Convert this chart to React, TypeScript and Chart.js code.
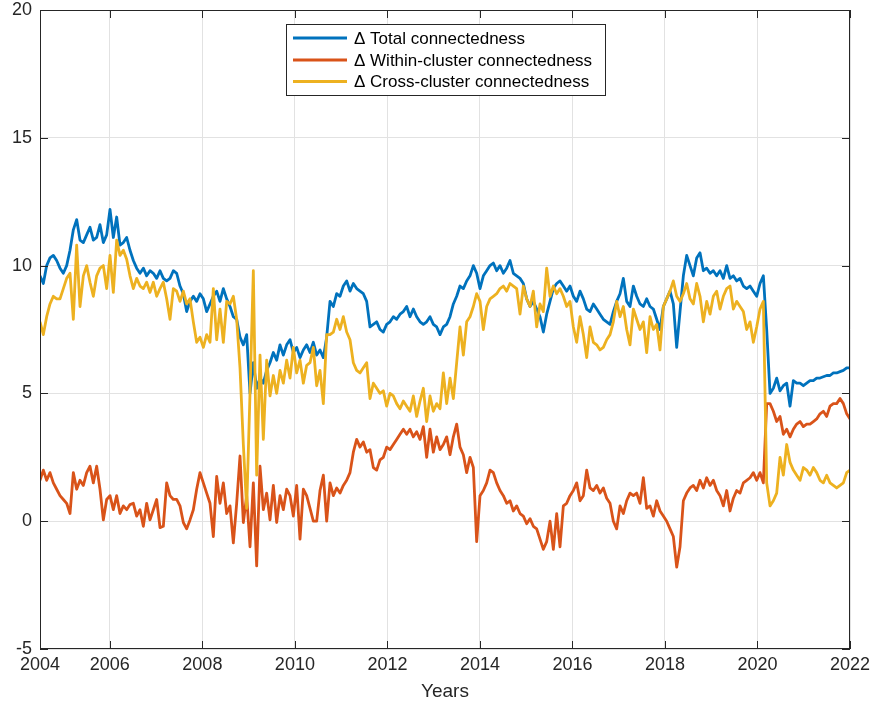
import React, { useEffect, useRef } from 'react';
import { Chart, registerables } from 'chart.js';

Chart.register(...registerables);

// ---- time axis (decimal years, one sample every ~0.072 yr) ----
const sampleStartYear = 2004.49;
const sampleStepYears = 0.07206;
const xAxisMin = 2004.49;
const xAxisMax = 2022;
const xTickValues = [2004.49, 2006, 2008, 2010, 2012, 2014, 2016, 2018, 2020, 2022];
const xTickLabels = ['2004', '2006', '2008', '2010', '2012', '2014', '2016', '2018', '2020', '2022'];
const yTickValues = [-5, 0, 5, 10, 15, 20];

const seriesLabels = [
  '\u0394 Total connectedness',
  '\u0394 Within-cluster connectedness',
  '\u0394 Cross-cluster connectedness',
];
const seriesColors = ['#0072BD', '#D95319', '#EDB120'];

// ---- series values ----
const totalConnectedness = [
  9.6, 9.3, 10.0, 10.3, 10.4, 10.2, 9.9, 9.7, 10.0, 10.6, 11.4, 11.8, 11.0, 10.9, 11.2, 11.5, 11.0, 11.1, 11.6, 10.9,
  11.2, 12.2, 11.1, 11.9, 10.8, 10.9, 11.1, 10.6, 10.2, 9.9, 9.7, 9.9, 9.6, 9.8, 9.7, 9.5, 9.8, 9.5, 9.4, 9.5, 9.8,
  9.7, 9.2, 8.9, 8.2, 8.6, 8.8, 8.6, 8.9, 8.7, 8.2, 8.5, 8.8, 9.0, 8.6, 9.1, 8.7, 8.4, 8.0, 7.9, 7.2,
  6.9, 7.3, 5.0, 6.2, 5.2, 5.6, 5.4, 5.9, 6.2, 6.6, 6.3, 6.9, 6.5, 6.9, 7.1, 6.6, 6.8, 6.4, 6.7, 6.9,
  6.6, 7.0, 6.5, 6.7, 6.4, 7.2, 8.6, 8.4, 8.9, 8.8, 9.2, 9.4, 9.0, 9.3, 9.1, 9.0, 8.9, 8.6, 7.6, 7.7,
  7.8, 7.5, 7.4, 7.7, 7.8, 8.0, 7.9, 8.1, 8.2, 8.4, 8.0, 8.3, 8.0, 7.8, 7.7, 7.8, 8.0, 7.7, 7.6, 7.3,
  7.6, 7.7, 8.0, 8.5, 8.8, 9.2, 9.1, 9.4, 9.6, 10.0, 9.7, 9.1, 9.6, 9.8, 10.0, 10.1, 9.8, 10.0, 9.7, 9.9,
  10.2, 9.7, 9.6, 9.5, 9.3, 8.7, 8.4, 8.6, 8.3, 8.0, 7.4, 8.1, 8.6, 9.1, 9.3, 9.4, 9.2, 9.0, 9.2, 8.8, 8.6,
  9.0, 8.7, 8.3, 8.2, 8.5, 8.3, 8.1, 7.9, 7.8, 7.7, 8.2, 8.6, 8.9, 9.5, 8.6, 8.4, 9.2, 8.8, 8.5, 8.4,
  8.7, 8.4, 8.3, 7.9, 7.5, 8.4, 8.7, 9.0, 8.5, 6.8, 8.2, 9.6, 10.4, 10.0, 9.6, 10.3, 10.5, 9.8, 9.9, 9.7,
  9.8, 9.6, 9.8, 9.5, 10.0, 9.5, 9.6, 9.4, 9.5, 9.2, 9.1, 9.2, 9.0, 8.8, 9.3, 9.6, 7.5, 5.0, 5.2, 5.6,
  5.1, 5.3, 5.4, 4.5, 5.5, 5.4, 5.4, 5.3, 5.4, 5.5, 5.5, 5.6, 5.6, 5.65, 5.7, 5.7, 5.8, 5.8, 5.85, 5.9, 6.0, 6.0,
];

const withinClusterConnectedness = [
  1.6, 2.0, 1.6, 1.9, 1.5, 1.25, 1.0, 0.85, 0.7, 0.3, 1.9, 1.25, 1.6, 1.4, 1.9, 2.15, 1.5, 2.15, 1.25, 0.05,
  0.85, 1.0, 0.45, 1.0, 0.3, 0.6, 0.45, 0.65, 0.7, 0.2, 0.45, -0.2, 0.7, 0.05, 0.45, 0.85, -0.25, -0.2, 1.5, 1.0, 0.85,
  0.85, 0.6, -0.05, -0.3, 0.05, 0.45, 1.25, 1.9, 1.5, 1.1, 0.7, -0.6, 1.75, 0.7, 1.5, 0.3, 0.6, -0.85, 0.7, 2.55,
  -0.05, 1.0, -1.0, 1.5, -1.75, 2.15, 0.45, 1.1, 0.05, 1.4, -0.05, 1.0, 0.45, 1.25, 1.0, 0.2, 1.4, -0.7, 1.25, 1.0,
  0.5, 0.0, 0.0, 1.2, 1.8, 0.0, 1.5, 1.0, 1.3, 1.1, 1.4, 1.6, 1.9, 2.7, 3.2, 2.9, 3.1, 2.7, 2.8, 2.1,
  2.0, 2.4, 2.5, 2.9, 2.8, 3.0, 3.2, 3.4, 3.6, 3.4, 3.6, 3.3, 3.5, 3.2, 3.7, 2.5, 3.6, 2.7, 3.3, 2.8,
  3.0, 3.3, 2.6, 3.3, 3.8, 2.9, 2.6, 1.9, 2.5, 2.1, -0.8, 1.0, 1.2, 1.5, 2.0, 1.9, 1.5, 1.2, 1.0, 0.7,
  0.8, 0.4, 0.6, 0.3, 0.2, -0.1, 0.1, -0.2, -0.3, -0.7, -1.1, -0.8, 0.0, -1.1, 0.3, -1.0, 0.6, 0.7, 1.0, 1.2, 1.5,
  0.8, 1.0, 2.0, 1.3, 1.2, 1.4, 1.1, 1.3, 0.9, 0.7, 0.0, -0.3, 0.6, 0.3, 0.8, 1.1, 1.0, 1.1, 0.7, 1.7,
  0.5, 0.6, 0.2, 0.8, 0.4, 0.2, 0.0, -0.3, -0.6, -1.8, -1.0, 0.8, 1.1, 1.3, 1.4, 1.2, 1.6, 1.3, 1.7, 1.4,
  1.6, 1.2, 1.0, 0.6, 1.2, 0.4, 0.9, 1.2, 1.1, 1.5, 1.6, 1.7, 1.9, 1.6, 1.9, 1.5, 4.6, 4.6, 4.3, 3.9,
  4.1, 3.4, 3.6, 3.3, 3.6, 3.8, 3.9, 3.7, 3.8, 3.8, 3.9, 4.0, 4.2, 4.3, 4.1, 4.5, 4.6, 4.6, 4.8, 4.6, 4.2, 4.0,
];

const crossClusterConnectedness = [
  7.8, 7.3, 8.0, 8.5, 8.8, 8.7, 8.7, 9.1, 9.5, 9.7, 7.9, 10.8, 8.4, 9.6, 10.0, 9.35, 8.8, 9.6, 9.9, 10.0,
  9.1, 10.4, 8.95, 11.0, 10.4, 10.6, 10.25, 9.6, 9.1, 9.5, 9.2, 9.1, 9.35, 8.95, 9.35, 8.8, 9.1, 9.35, 8.7, 7.9, 9.1,
  9.0, 8.6, 9.0, 8.5, 8.7, 7.8, 7.0, 7.2, 6.8, 7.3, 7.0, 9.1, 7.1, 8.3, 7.0, 8.6, 8.5, 8.8, 7.9, 6.0,
  3.0, 0.5, 5.0, 9.8, 1.8, 6.5, 3.2, 6.3, 4.9, 5.7, 5.0, 5.9, 5.4, 6.3, 5.6, 6.8, 5.8, 6.3, 5.4, 6.1,
  6.2, 6.8, 5.3, 5.9, 4.6, 7.3, 7.3, 7.4, 7.9, 7.5, 8.0, 7.4, 7.1, 6.2, 5.9, 5.8, 6.0, 6.2, 4.8, 5.4,
  5.2, 5.0, 5.1, 4.5, 5.0, 4.9, 4.6, 4.4, 4.7, 4.5, 4.3, 4.9, 4.1, 4.7, 5.2, 3.9, 4.9, 4.3, 4.6, 4.4,
  5.8, 4.6, 5.6, 4.8, 6.2, 7.6, 6.5, 7.8, 8.0, 8.4, 8.9, 8.6, 7.5, 8.4, 8.7, 8.8, 8.9, 9.1, 9.2, 9.0,
  9.3, 9.2, 9.1, 8.1, 9.2, 8.7, 8.4, 9.0, 7.6, 8.5, 8.2, 9.9, 8.8, 9.2, 8.9, 9.1, 8.8, 8.4, 8.6, 7.6, 7.0,
  8.0, 7.3, 6.4, 7.6, 7.0, 6.9, 6.7, 6.8, 7.1, 7.3, 7.8, 8.6, 8.0, 8.4, 7.5, 6.9, 8.3, 7.9, 7.5, 7.8,
  6.6, 8.0, 7.5, 7.7, 6.7, 8.4, 8.7, 9.0, 9.4, 8.8, 8.6, 8.9, 9.3, 8.7, 8.5, 9.3, 8.8, 7.8, 8.6, 8.1,
  8.8, 9.0, 8.3, 8.8, 9.1, 9.2, 8.3, 8.6, 8.4, 8.2, 7.5, 7.8, 7.0, 7.6, 8.3, 8.6, 1.5, 0.6, 0.8, 1.1,
  2.5, 1.8, 3.0, 2.3, 2.0, 1.8, 1.6, 2.1, 2.0, 1.8, 2.1, 1.9, 1.6, 1.5, 1.8, 1.5, 1.4, 1.3, 1.4, 1.5, 1.9, 2.0,
];

const FONT = "'Liberation Sans', Arial, Helvetica, sans-serif";
const AXIS_COLOR = '#262626';
const GRID_COLOR = '#e2e2e2';

const toPoints = (values: number[]) =>
  values.map((v, i) => ({ x: sampleStartYear + i * sampleStepYears, y: v }));

const framePlugin = {
  id: 'matlabFrame',
  afterDraw(chart: any) {
    const { ctx, chartArea } = chart;
    const { left, right, top, bottom } = chartArea;
    const xs = chart.scales.x;
    const ys = chart.scales.y;
    ctx.save();
    ctx.strokeStyle = AXIS_COLOR;
    ctx.lineWidth = 1;
    ctx.strokeRect(Math.round(left) + 0.5, Math.round(top) + 0.5, Math.round(right - left) - 1, Math.round(bottom - top) - 1);
    const tl = 8;
    ctx.beginPath();
    xTickValues.forEach((v) => {
      const px = Math.round(xs.getPixelForValue(v)) + 0.5;
      ctx.moveTo(px, bottom);
      ctx.lineTo(px, bottom - tl);
      ctx.moveTo(px, top);
      ctx.lineTo(px, top + tl);
    });
    yTickValues.forEach((v) => {
      const py = Math.round(ys.getPixelForValue(v)) + 0.5;
      ctx.moveTo(left, py);
      ctx.lineTo(left + tl, py);
      ctx.moveTo(right, py);
      ctx.lineTo(right - tl, py);
    });
    ctx.stroke();

    // legend box
    const bx = 286.5, by = 24.5, bw = 319, bh = 71;
    ctx.fillStyle = '#ffffff';
    ctx.fillRect(bx, by, bw, bh);
    ctx.strokeStyle = AXIS_COLOR;
    ctx.lineWidth = 1;
    ctx.strokeRect(bx, by, bw, bh);
    const rows = [38, 60, 81.5];
    ctx.font = `17px ${FONT}`;
    ctx.textBaseline = 'middle';
    ctx.textAlign = 'left';
    seriesLabels.forEach((lab, i) => {
      ctx.strokeStyle = seriesColors[i];
      ctx.lineWidth = 3;
      ctx.beginPath();
      ctx.moveTo(293, rows[i]);
      ctx.lineTo(347, rows[i]);
      ctx.stroke();
      ctx.fillStyle = '#000000';
      ctx.fillText(lab, 354, rows[i] + 1);
    });
    ctx.restore();
  },
};

export default function App() {
  const canvasRef = useRef<HTMLCanvasElement | null>(null);

  useEffect(() => {
    document.body.style.margin = '0';
    const canvas = canvasRef.current;
    if (!canvas) return;
    const series = [totalConnectedness, withinClusterConnectedness, crossClusterConnectedness];
    const chart = new Chart(canvas, {
      type: 'line',
      data: {
        datasets: series.map((vals, i) => ({
          label: seriesLabels[i],
          data: toPoints(vals),
          borderColor: seriesColors[i],
          backgroundColor: seriesColors[i],
          borderWidth: 2.8,
          pointRadius: 0,
          tension: 0,
          fill: false,
          borderJoinStyle: 'round' as const,
          order: 3 - i,
        })),
      },
      options: {
        animation: false,
        responsive: true,
        maintainAspectRatio: false,
        layout: { padding: { top: 10, right: 22, left: 0, bottom: 0 } },
        plugins: { legend: { display: false }, tooltip: { enabled: false } },
        scales: {
          x: {
            type: 'linear',
            min: xAxisMin,
            max: xAxisMax,
            afterBuildTicks: (scale: any) => {
              scale.ticks = xTickValues.map((v) => ({ value: v }));
            },
            afterFit: (scale: any) => {
              scale.height = 58;
              scale.paddingLeft = 0;
              scale.paddingRight = 0;
            },
            ticks: {
              autoSkip: false,
              maxRotation: 0,
              minRotation: 0,
              padding: 5,
              color: AXIS_COLOR,
              font: { family: FONT, size: 18 },
              callback: (_v: any, index: number) => xTickLabels[index],
            },
            grid: { color: GRID_COLOR, drawTicks: false },
            border: { display: false },
            title: {
              display: true,
              text: 'Years',
              color: AXIS_COLOR,
              font: { family: FONT, size: 19 },
              padding: { top: 0, bottom: 4 },
            },
          },
          y: {
            min: -5,
            max: 20,
            afterBuildTicks: (scale: any) => {
              scale.ticks = yTickValues.map((v) => ({ value: v }));
            },
            afterFit: (scale: any) => {
              scale.width = 40;
              scale.paddingTop = 0;
              scale.paddingBottom = 0;
            },
            ticks: {
              padding: 8,
              color: AXIS_COLOR,
              font: { family: FONT, size: 18 },
            },
            grid: { color: GRID_COLOR, drawTicks: false },
            border: { display: false },
          },
        },
      },
      plugins: [framePlugin],
    });
    return () => chart.destroy();
  }, []);

  return (
    <div style={{ width: 872, height: 707, position: 'relative', background: '#ffffff' }}>
      <canvas ref={canvasRef} />
    </div>
  );
}
